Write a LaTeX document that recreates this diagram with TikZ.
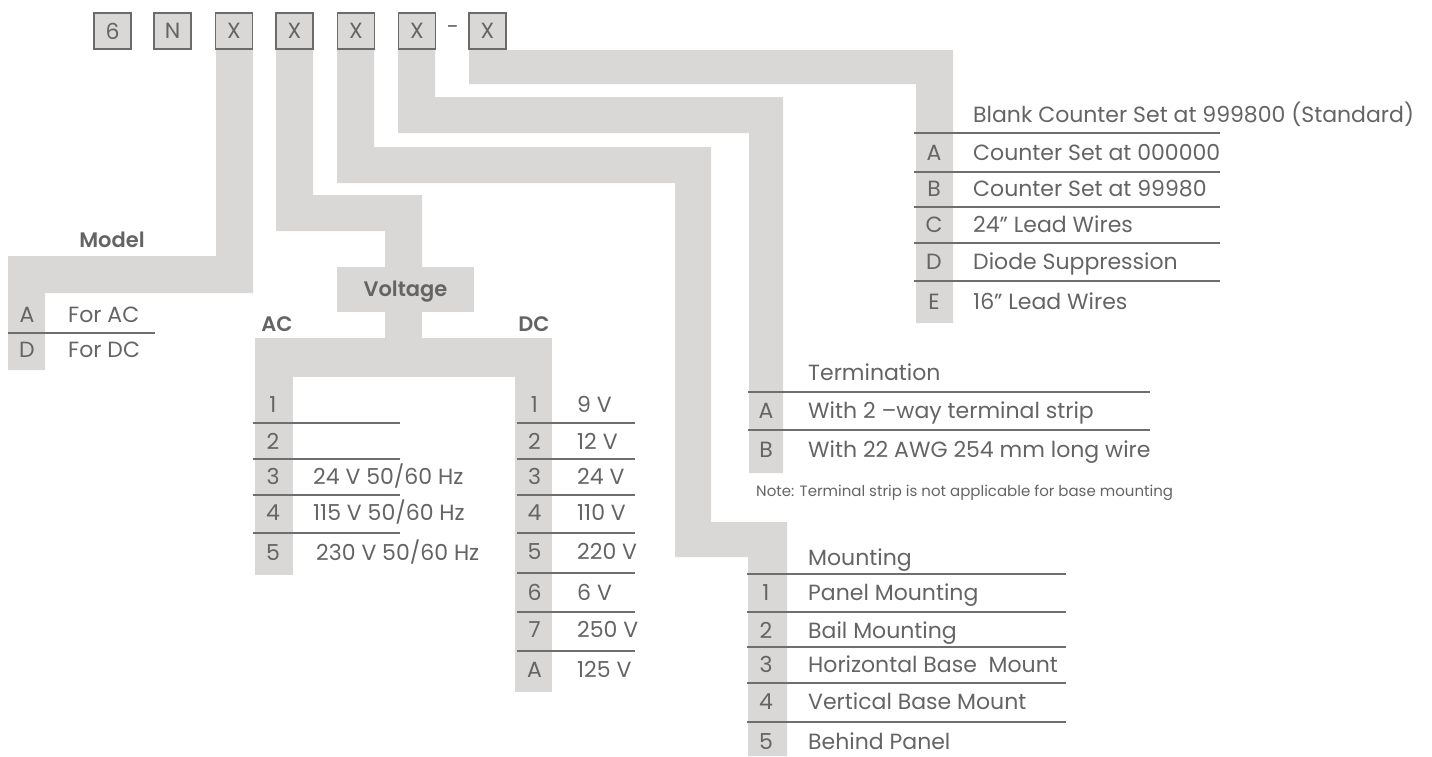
\documentclass[tikz,border=0pt]{standalone}
\usepackage{fontspec}
\setmainfont{Poppins}
\newfontfamily\semibold{Poppins SemiBold}
\usepackage{tikz}
\usepackage{xcolor}

\definecolor{bandgray}{HTML}{D9D8D7}
\definecolor{txtgray}{HTML}{646464}
\definecolor{linegray}{HTML}{6E6E6E}
\definecolor{boxline}{HTML}{6B6B6B}

\tikzset{
    band/.style={fill=bandgray},
    codebox/.style={draw=boxline, line width=1.6pt, fill=bandgray, minimum width=37pt,
        minimum height=36pt, inner sep=0pt, text=txtgray, font=\fontsize{22}{22}\selectfont},
    key/.style={text=txtgray, inner sep=0pt, text height=15.5pt, text depth=0pt,
        font=\fontsize{22}{22}\selectfont},
    entry/.style={key, anchor=west},
    note/.style={text=txtgray, inner sep=0pt, anchor=west, font=\fontsize{15}{15}\selectfont},
    head/.style={text=txtgray, inner sep=0pt, text height=14.5pt, text depth=0pt,
        font=\fontsize{21}{21}\selectfont\semibold},
    rule/.style={draw=linegray, line width=1.3pt},
}

\begin{document}
\begin{tikzpicture}[x=1pt, y=-1pt]
    \useasboundingbox (0,0) rectangle (1432,756);

    % gray paths from the code boxes
    \fill[band] (216,50) -- (253,50) -- (253,293) -- (45,293) -- (45,370) -- (8,370) -- (8,256) -- (216,256) -- cycle;
    \fill[band] (276,50) -- (313,50) -- (313,195) -- (422,195) -- (422,267) -- (385,267) -- (385,231) -- (276,231) -- cycle;
    \fill[band] (385,310) rectangle (422,338);
    \fill[band] (255,338) rectangle (552,377);
    \fill[band] (255,377) rectangle (293,575);
    \fill[band] (515,377) rectangle (552,692);
    \fill[band] (337,50) -- (374,50) -- (374,147) -- (711,147) -- (711,522) -- (787,522) -- (787,756)
        -- (748,756) -- (748,557) -- (675,557) -- (675,183) -- (337,183) -- cycle;
    \fill[band] (398,50) -- (435,50) -- (435,97) -- (783,97) -- (783,473) -- (749,473) -- (749,133) -- (398,133) -- cycle;
    \fill[band] (469,50) -- (953,50) -- (953,323) -- (916,323) -- (916,84) -- (469,84) -- cycle;

    % code boxes
    \node[codebox] (b1) at (112.5,31) {6};
    \node[codebox] (b2) at (172.5,31) {N};
    \node[codebox] (b3) at (234,31) {X};
    \node[codebox] (b4) at (294.5,31) {X};
    \node[codebox] (b5) at (356,31) {X};
    \node[codebox] (b6) at (417,31) {X};
    \node[text=txtgray, font=\fontsize{22}{22}\selectfont] (dash) at (453,30) {-};
    \node[codebox] (b7) at (487.5,31) {X};

    % model
    \node[head] (model) at (112,240) {Model};
    \foreach \k/\t/\y in {A/For AC/315, D/For DC/350} {
        \node[key] (mk\k) at (27,\y) {\k};
        \node[entry] (mt\k) at (68,\y) {\t};
    }
    \draw[rule] (8,333) -- (155,333);

    % voltage
    \node[head, fill=bandgray, minimum width=137pt, minimum height=45pt] (volt) at (405.5,289.5) {Voltage};
    \node[head] (ac) at (277,324) {AC};
    \node[head] (dc) at (534,324) {DC};
    \foreach \k/\t/\x/\y in {1//313/405, 2//313/442, 3/{24 V 50/60 Hz}/313/477,
                             4/{115 V 50/60 Hz}/313/513, 5/{230 V 50/60 Hz}/316/553} {
        \node[key] (ak\k) at (273,\y) {\k};
        \node[entry] (at\k) at (\x,\y) {\t};
    }
    \foreach \y in {423,459,495,533}
        \draw[rule] (253,\y) -- (400,\y);
    \foreach \k/\t/\y in {1/9 V/405, 2/12 V/442, 3/24 V/477, 4/110 V/513,
                          5/220 V/552, 6/6 V/593, 7/250 V/630, A/125 V/670} {
        \node[key] (dk\k) at (534.5,\y) {\k};
        \node[entry] (dt\k) at (577,\y) {\t};
    }
    \foreach \y in {423,459,495,533,573,612,651}
        \draw[rule] (517,\y) -- (635,\y);

    % counter options
    \node[entry] (blank) at (973,115) {Blank Counter Set at 999800 (Standard)};
    \foreach \k/\t/\y in {A/Counter Set at 000000/153, B/Counter Set at 99980/189,
                          C/24” Lead Wires/225, D/Diode Suppression/262, E/16” Lead Wires/302} {
        \node[key] (ck\k) at (934,\y) {\k};
        \node[entry] (ct\k) at (973,\y) {\t};
    }
    \foreach \y in {133,172,207,243,281}
        \draw[rule] (914,\y) -- (1220,\y);

    % termination
    \node[entry] (term) at (808,373) {Termination};
    \foreach \k/\t/\y in {A/With 2 –way terminal strip/411, B/With 22 AWG 254 mm long wire/450} {
        \node[key] (tk\k) at (766,\y) {\k};
        \node[entry] (tt\k) at (808,\y) {\t};
    }
    \foreach \y in {392,430}
        \draw[rule] (748,\y) -- (1150,\y);
    \node[note] (tnote) at (756,493) {Note: Terminal strip is not applicable for base mounting};

    % mounting
    \node[entry] (mount) at (808,558) {Mounting};
    \foreach \k/\t/\y in {1/Panel Mounting/593, 2/Bail Mounting/631, 3/Horizontal Base\ \ Mount/665,
                          4/Vertical Base Mount/702, 5/Behind Panel/742} {
        \node[key] (nk\k) at (766,\y) {\k};
        \node[entry] (nt\k) at (808,\y) {\t};
    }
    \foreach \y in {574,612,647,683,722}
        \draw[rule] (747,\y) -- (1066,\y);
\end{tikzpicture}
\end{document}
